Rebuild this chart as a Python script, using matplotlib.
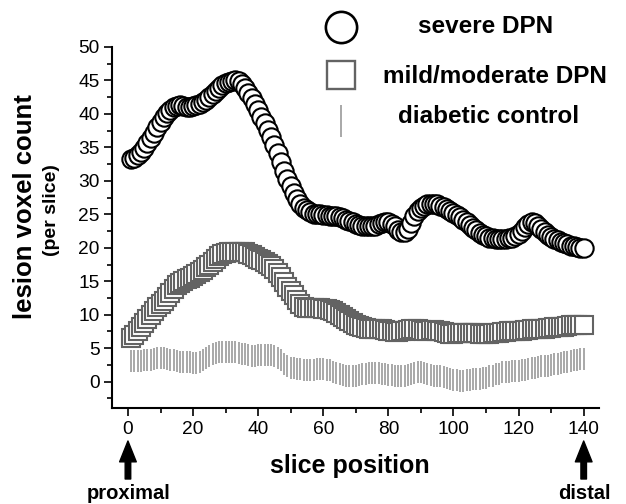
import matplotlib
matplotlib.use("Agg")
import matplotlib.pyplot as plt
import numpy as np

plt.rcParams['font.family'] = ['Liberation Sans', 'DejaVu Sans']

# ---------------- data ----------------
slice_pos = list(range(1, 141))

severe_dpn = [
    33.2, 33.4, 33.8, 34.3, 34.9, 35.6, 36.4, 37.2, 38.0, 38.8,
    39.5, 40.1, 40.6, 41.0, 41.2, 41.3, 41.2, 41.1, 41.1, 41.2,
    41.3, 41.5, 41.8, 42.1, 42.5, 43.0, 43.5, 43.9, 44.3, 44.6,
    44.8, 44.9, 45.0, 44.9, 44.5, 43.9, 43.2, 42.4, 41.5, 40.6,
    39.6, 38.6, 37.6, 36.5, 35.3, 34.1, 32.8, 31.5, 30.3, 29.2,
    28.2, 27.3, 26.6, 26.0, 25.6, 25.3, 25.1, 25.0, 25.0, 24.9,
    24.9, 24.8, 24.8, 24.7, 24.6, 24.4, 24.2, 24.0, 23.8, 23.6,
    23.4, 23.3, 23.2, 23.2, 23.2, 23.3, 23.5, 23.7, 23.8, 23.8,
    23.6, 23.2, 22.7, 22.3, 22.3, 22.8, 23.7, 24.7, 25.5, 26.0,
    26.3, 26.5, 26.6, 26.6, 26.5, 26.3, 26.1, 25.8, 25.5, 25.2,
    24.9, 24.6, 24.2, 23.8, 23.4, 23.0, 22.6, 22.2, 21.9, 21.7,
    21.5, 21.4, 21.3, 21.3, 21.3, 21.3, 21.4, 21.5, 21.7, 22.0,
    22.5, 23.1, 23.6, 23.8, 23.7, 23.3, 22.8, 22.3, 21.9, 21.6,
    21.3, 21.1, 20.9, 20.7, 20.5, 20.3, 20.2, 20.1, 20.0, 20.0,
]

mild_moderate_dpn = [
    6.5, 7.0, 7.6, 8.2, 8.8, 9.4, 10.0, 10.6, 11.1, 11.6,
    12.1, 12.7, 13.3, 13.9, 14.4, 14.8, 15.1, 15.3, 15.5, 15.8,
    16.1, 16.4, 16.7, 17.1, 17.5, 17.9, 18.3, 18.7, 19.0, 19.2,
    19.3, 19.4, 19.4, 19.4, 19.4, 19.3, 19.1, 18.9, 18.6, 18.3,
    18.1, 17.9, 17.6, 17.3, 16.8, 16.2, 15.6, 14.9, 14.2, 13.5,
    12.9, 12.2, 11.6, 11.2, 11.0, 11.0, 11.0, 11.0, 11.0, 10.9,
    10.8, 10.7, 10.5, 10.3, 10.0, 9.7, 9.4, 9.1, 8.8, 8.5,
    8.3, 8.1, 8.0, 7.9, 7.9, 7.8, 7.8, 7.8, 7.7, 7.6,
    7.5, 7.4, 7.4, 7.5, 7.6, 7.7, 7.8, 7.8, 7.8, 7.7,
    7.6, 7.6, 7.7, 7.7, 7.6, 7.5, 7.4, 7.2, 7.1, 7.1,
    7.2, 7.3, 7.3, 7.3, 7.3, 7.3, 7.2, 7.1, 7.1, 7.1,
    7.1, 7.2, 7.2, 7.3, 7.4, 7.4, 7.5, 7.5, 7.6, 7.6,
    7.6, 7.7, 7.7, 7.8, 7.8, 7.8, 7.9, 7.9, 8.0, 8.0,
    8.1, 8.1, 8.2, 8.2, 8.3, 8.4, 8.4, 8.5, 8.5, 8.5,
]

diabetic_control = [
    3.1, 3.1, 3.1, 3.1, 3.2, 3.2, 3.3, 3.4, 3.5, 3.6,
    3.5, 3.4, 3.3, 3.2, 3.1, 3.0, 3.0, 2.9, 2.9, 2.85,
    2.85, 3.0, 3.2, 3.5, 3.8, 4.1, 4.3, 4.4, 4.45, 4.5,
    4.5, 4.5, 4.45, 4.3, 4.2, 4.1, 4.0, 3.9, 3.9, 4.0,
    4.0, 4.0, 4.0, 4.0, 3.9, 3.6, 3.2, 2.7, 2.3, 2.1,
    2.0, 1.9, 1.9, 1.8, 1.8, 1.8, 1.8, 1.9, 1.9, 1.9,
    1.8, 1.7, 1.5, 1.3, 1.1, 1.0, 0.9, 0.9, 0.9, 0.9,
    1.0, 1.1, 1.2, 1.3, 1.3, 1.3, 1.3, 1.2, 1.1, 1.0,
    1.0, 0.9, 0.9, 0.9, 0.9, 1.0, 1.2, 1.35, 1.45, 1.4,
    1.3, 1.2, 1.0, 0.9, 0.9, 0.8, 0.7, 0.5, 0.4, 0.3,
    0.2, 0.15, 0.15, 0.2, 0.3, 0.35, 0.4, 0.45, 0.5, 0.6,
    0.8, 0.9, 1.1, 1.2, 1.4, 1.45, 1.5, 1.55, 1.6, 1.65,
    1.7, 1.8, 1.9, 2.0, 2.1, 2.15, 2.3, 2.35, 2.4, 2.5,
    2.6, 2.7, 2.8, 2.9, 3.0, 3.1, 3.2, 3.3, 3.4, 3.4,
]

x_ticks = [0, 20, 40, 60, 80, 100, 120, 140]
y_ticks = [0, 5, 10, 15, 20, 25, 30, 35, 40, 45, 50]
series_labels = ['severe DPN', 'mild/moderate DPN', 'diabetic control']

# ---------------- figure ----------------
W, H = 626, 504
fig = plt.figure(figsize=(W / 100, H / 100), dpi=100)
ax = fig.add_axes([112 / W, 1 - 408 / H, (599 - 112) / W, (408 - 47) / H])

GRAY_DARK = '#636363'
GRAY_LIGHT = '#a8a8a8'

ax.plot(slice_pos, diabetic_control, linestyle='none', marker='|',
        ms=16, mew=1.4, color=GRAY_LIGHT, zorder=2)
ax.plot(slice_pos, mild_moderate_dpn, linestyle='none', marker='s',
        ms=12.5, mew=1.5, mfc='white', mec=GRAY_DARK, zorder=3)
ax.plot(slice_pos, severe_dpn, linestyle='none', marker='o',
        ms=13.2, mew=1.5, mfc='white', mec='black', zorder=4)

ax.set_xlim(-4.9, 144.7)
ax.set_ylim(-3.94, 50)
ax.set_xticks(x_ticks)
ax.set_yticks(y_ticks)
ax.set_xticks(np.arange(10, 140, 20), minor=True)
ax.set_yticks(np.arange(-2.5, 50, 5), minor=True)
ax.tick_params(axis='both', which='major', direction='out', length=6,
               width=1.2, labelsize=13.8, pad=3)
ax.tick_params(axis='both', which='minor', direction='out', length=3.5,
               width=1.2)
for s in ['top', 'right']:
    ax.spines[s].set_visible(False)
for s in ['left', 'bottom']:
    ax.spines[s].set_linewidth(1.5)

# axis labels
fig.text(25 / W, 1 - 207 / H, 'lesion voxel count', rotation=90,
         ha='center', va='center', fontsize=18.5, fontweight='bold')
fig.text(52 / W, 1 - 210 / H, '(per slice)', rotation=90,
         ha='center', va='center', fontsize=14, fontweight='bold')
fig.text(350 / W, 1 - 473 / H, 'slice position', ha='center',
         va='baseline', fontsize=18, fontweight='bold')

# arrows with proximal / distal
for xv in [x_ticks[0], x_ticks[-1]]:
    ax.annotate('', xy=(xv, H - 441), xycoords=(ax.transData, 'figure pixels'),
                xytext=(xv, H - 479), textcoords=(ax.transData, 'figure pixels'),
                arrowprops=dict(arrowstyle='simple,head_width=0.6,head_length=0.75,tail_width=0.2',
                                color='black', mutation_scale=20, shrinkA=0, shrinkB=0),
                annotation_clip=False)
fig.text(129 / W, 1 - 499 / H, 'proximal', ha='center', va='baseline',
         fontsize=14.5, fontweight='bold')
fig.text(584 / W, 1 - 499 / H, 'distal', ha='center', va='baseline',
         fontsize=14.5, fontweight='bold')

# legend (drawn manually)
ov = fig.add_axes([0, 0, 1, 1], facecolor='none')
ov.set_xlim(0, W)
ov.set_ylim(H, 0)
ov.axis('off')
ov.plot([341], [27], marker='o', ms=22.5, mew=1.9, mfc='white', mec='black',
        linestyle='none')
ov.plot([341], [75], marker='s', ms=20.5, mew=1.7, mfc='white', mec=GRAY_DARK,
        linestyle='none')
ov.plot([341], [121], marker='|', ms=23, mew=1.4, color=GRAY_LIGHT,
        linestyle='none')
ov.text(418, 33, series_labels[0], ha='left', va='baseline', fontsize=17.5,
        fontweight='bold')
ov.text(383, 83, series_labels[1], ha='left', va='baseline', fontsize=17.5,
        fontweight='bold')
ov.text(398, 123, series_labels[2], ha='left', va='baseline', fontsize=17.5,
        fontweight='bold')

fig.savefig('out.png', dpi=100)
